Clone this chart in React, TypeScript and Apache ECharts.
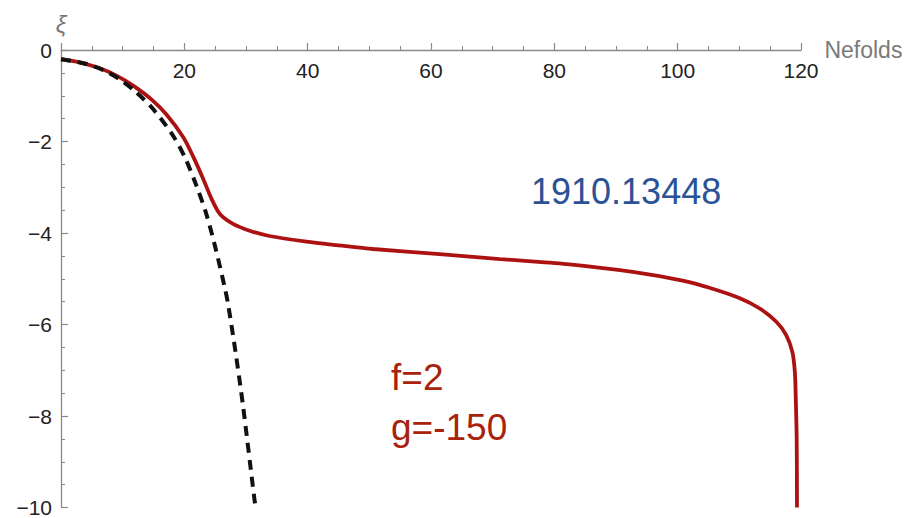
import React, { useEffect, useRef } from "react";
import * as echarts from "echarts";

const redX = [0, 3, 6.3, 9, 11.7, 14.75, 17.1, 19.8, 21.4, 23.1, 24.4, 25.8, 27.9, 30.6, 33.6, 39.8, 45, 50.6, 61.4, 71.2, 82, 92.7, 100.8, 105, 110, 113.3, 116, 117.6, 118.6, 119, 119.15, 119.3, 119.35];
const redY = [-0.2, -0.27, -0.4, -0.56, -0.78, -1.09, -1.41, -1.9, -2.32, -2.83, -3.25, -3.59, -3.8, -3.95, -4.06, -4.19, -4.27, -4.35, -4.46, -4.57, -4.68, -4.85, -5.04, -5.19, -5.42, -5.65, -5.94, -6.23, -6.6, -7.03, -7.6, -8.5, -10];

const blackX = [0, 4, 7, 9.6, 12, 15, 18.2, 20.1, 22, 23.6, 25, 26.6, 27.1, 28.3, 29.5, 31.4, 31.6];
const blackY = [-0.2, -0.3, -0.45, -0.65, -0.9, -1.3, -1.88, -2.35, -2.98, -3.6, -4.3, -5.22, -5.56, -6.6, -7.76, -9.85, -10];

const xTicks = [0, 20, 40, 60, 80, 100, 120];
const yTicks = [0, -2, -4, -6, -8, -10];

const annotationId = "1910.13448";
const paramF = "f=2";
const paramG = "g=-150";

export default function App() {
  const ref = useRef<HTMLDivElement>(null);
  useEffect(() => {
    if (!ref.current) return;
    const chart = echarts.init(ref.current, null, { renderer: "svg" });
    const font = "'Liberation Sans', Arial, sans-serif";
    const axisColor = "#8a8a8a";
    chart.setOption({
      animation: false,
      backgroundColor: "#ffffff",
      grid: { left: 61, top: 50, right: 107, bottom: 8, containLabel: false },
      xAxis: {
        type: "value",
        position: "top",
        min: xTicks[0],
        max: xTicks[xTicks.length - 1],
        interval: 20,
        name: "Nefolds",
        nameLocation: "end",
        nameGap: 19,
        nameTextStyle: { color: "#7a7a7a", fontSize: 23, fontFamily: font, verticalAlign: "middle" },
        axisLine: { show: true, onZero: false, lineStyle: { color: axisColor, width: 1.3 } },
        axisTick: { show: true, length: 7, lineStyle: { color: axisColor, width: 1.2 } },
        minorTick: { show: true, splitNumber: 4, length: 4, lineStyle: { color: axisColor, width: 1.1 } },
        axisLabel: {
          inside: true,
          margin: 10,
          fontSize: 21,
          color: "#222",
          fontFamily: font,
          formatter: (v: number) => (v === 0 ? "" : String(v)),
        },
        splitLine: { show: false },
      },
      yAxis: {
        type: "value",
        position: "left",
        min: yTicks[yTicks.length - 1],
        max: yTicks[0],
        interval: 2,
        name: "ξ",
        nameLocation: "end",
        nameGap: 14,
        nameTextStyle: { color: "#7a7a7a", fontSize: 24, fontStyle: "italic", fontFamily: font, align: "center" },
        axisLine: { show: true, onZero: false, lineStyle: { color: axisColor, width: 1.3 } },
        axisTick: { show: true, inside: true, length: 7, lineStyle: { color: axisColor, width: 1.2 } },
        minorTick: { show: true, splitNumber: 4, length: 4, lineStyle: { color: axisColor, width: 1.1 } },
        axisLabel: {
          margin: 9,
          fontSize: 21,
          color: "#222",
          fontFamily: font,
          formatter: (v: number) => (v < 0 ? "\u2212" + Math.abs(v) : String(v)),
        },
        splitLine: { show: false },
      },
      series: [
        {
          type: "line",
          data: redX.map((x, i) => [x, redY[i]]),
          showSymbol: false,
          smooth: 0.3,
          lineStyle: { color: "#ad1212", width: 3.8 },
          z: 2,
        },
        {
          type: "line",
          data: blackX.map((x, i) => [x, blackY[i]]),
          showSymbol: false,
          smooth: 0.3,
          lineStyle: { color: "#111", width: 4, type: [10, 7] },
          z: 3,
        },
      ],
      graphic: [
        {
          type: "text",
          x: 531,
          y: 191,
          style: {
            text: annotationId,
            fill: "#2a5295",
            font: `36px ${font}`,
            verticalAlign: "middle",
          },
        },
        {
          type: "text",
          x: 391,
          y: 377,
          style: {
            text: paramF,
            fill: "#a8220c",
            font: `37px ${font}`,
            verticalAlign: "middle",
          },
        },
        {
          type: "text",
          x: 391,
          y: 427,
          style: {
            text: paramG,
            fill: "#a8220c",
            font: `37px ${font}`,
            verticalAlign: "middle",
          },
        },
      ],
    });
    return () => chart.dispose();
  }, []);
  return (
    <div
      ref={ref}
      style={{ position: "fixed", left: 0, top: 0, width: 908, height: 518, background: "#fff" }}
    />
  );
}
